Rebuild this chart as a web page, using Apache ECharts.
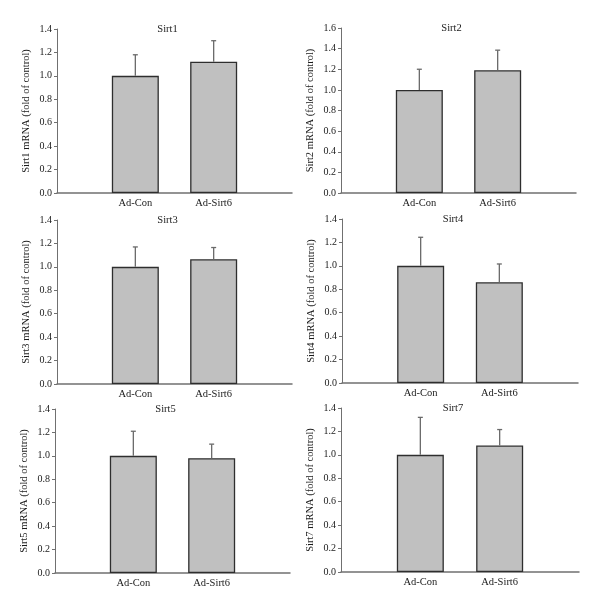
<!DOCTYPE html>
<html>
<head>
<meta charset="utf-8">
<style>
  html, body { margin: 0; padding: 0; background: #fff; }
  #chart { width: 600px; height: 610px; }
</style>
<script src="https://cdn.jsdelivr.net/npm/echarts@6/dist/echarts.min.js"></script>
</head>
<body>
<div id="chart"></div>
<script>
// data
const categories = ['Ad-Con', 'Ad-Sirt6'];
const panelNames = ['Sirt1', 'Sirt2', 'Sirt3', 'Sirt4', 'Sirt5', 'Sirt7'];
const yMaxes = [1.4, 1.6, 1.4, 1.4, 1.4, 1.4];
const sirt1 = [1.00, 1.12];
const sirt2 = [1.00, 1.19];
const sirt3 = [1.00, 1.065];
const sirt4 = [1.00, 0.86];
const sirt5 = [1.00, 0.98];
const sirt7 = [1.00, 1.08];
const sirt1Err = [0.18, 0.18];
const sirt2Err = [0.20, 0.195];
const sirt3Err = [0.17, 0.10];
const sirt4Err = [0.244, 0.156];
const sirt5Err = [0.21, 0.12];
const sirt7Err = [0.32, 0.136];

const means = [sirt1, sirt2, sirt3, sirt4, sirt5, sirt7];
const errs = [sirt1Err, sirt2Err, sirt3Err, sirt4Err, sirt5Err, sirt7Err];

// plot boxes of the six panels
const grids = [
  { left: 57, top: 29, width: 235, height: 164 },
  { left: 341, top: 28, width: 235, height: 165 },
  { left: 57, top: 220, width: 235, height: 164 },
  { left: 342, top: 219, width: 236, height: 164 },
  { left: 55, top: 409, width: 235, height: 164 },
  { left: 341, top: 408, width: 238, height: 164 }
];

const font = 'Liberation Serif';
const axisColor = '#707070';
const textColor = '#1a1a1a';
const xCats = [''].concat(categories, ['']);

const chart = echarts.init(document.getElementById('chart'));

const option = {
  backgroundColor: '#fff',
  animation: false,
  title: [],
  grid: [],
  xAxis: [],
  yAxis: [],
  series: []
};

panelNames.forEach((name, i) => {
  const g = grids[i];
  option.grid.push({ left: g.left, top: g.top, width: g.width, height: g.height });
  option.title.push({
    text: name,
    left: g.left + g.width / 2 - 12,
    top: g.top - 10,
    textAlign: 'center',
    textStyle: { fontFamily: font, fontSize: 10.5, fontWeight: 'normal', color: textColor }
  });
  option.xAxis.push({
    type: 'category',
    gridIndex: i,
    data: xCats,
    boundaryGap: false,
    axisLine: { lineStyle: { color: axisColor, width: 1.5 } },
    axisTick: { show: false },
    axisLabel: { interval: 0, margin: 5, fontFamily: font, fontSize: 10.5, color: textColor },
    splitLine: { show: false }
  });
  option.yAxis.push({
    type: 'value',
    gridIndex: i,
    min: 0,
    max: yMaxes[i],
    interval: 0.2,
    name: name + ' mRNA (fold of control)',
    nameLocation: 'middle',
    nameGap: 25,
    nameTextStyle: { fontFamily: font, fontSize: 10.5, color: textColor },
    axisLine: { show: true, lineStyle: { color: axisColor, width: 1 } },
    axisTick: { show: true, length: 3, lineStyle: { color: axisColor } },
    axisLabel: {
      margin: 5,
      fontFamily: font,
      fontSize: 10,
      color: textColor,
      formatter: v => v.toFixed(1)
    },
    splitLine: { show: false }
  });
  option.series.push({
    type: 'bar',
    xAxisIndex: i,
    yAxisIndex: i,
    barWidth: 47,
    data: [null].concat(means[i], [null]),
    itemStyle: { color: '#c0c0c0', borderColor: '#2e2e2e', borderWidth: 1.3 }
  });
  option.series.push({
    type: 'custom',
    xAxisIndex: i,
    yAxisIndex: i,
    z: 3,
    encode: { x: 0, y: 2 },
    data: means[i].map((m, k) => [k + 1, m, m + errs[i][k]]),
    renderItem: (params, api) => {
      const base = api.coord([api.value(0), api.value(1)]);
      const top = api.coord([api.value(0), api.value(2)]);
      const style = { stroke: '#6a6a6a', lineWidth: 1.3 };
      return {
        type: 'group',
        children: [
          { type: 'line', shape: { x1: top[0], y1: base[1], x2: top[0], y2: top[1] }, style },
          { type: 'line', shape: { x1: top[0] - 2.5, y1: top[1], x2: top[0] + 2.5, y2: top[1] }, style }
        ]
      };
    }
  });
});

chart.setOption(option);
</script>
</body>
</html>
